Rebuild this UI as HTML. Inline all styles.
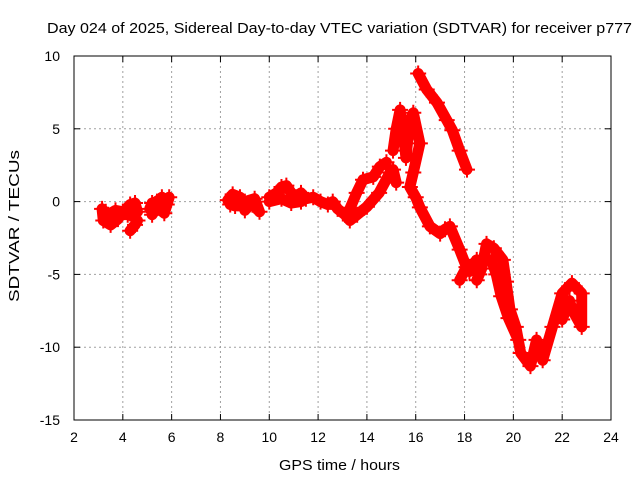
<!DOCTYPE html>
<html><head><meta charset="utf-8"><style>
body{margin:0;background:#fff}
svg{display:block;font-family:"Liberation Sans",sans-serif}
</style></head><body>
<svg id="chart" width="640" height="480" viewBox="0 0 640 480">
<rect width="640" height="480" fill="#fff"/>
<text x="47" y="33" font-size="15" textLength="585" lengthAdjust="spacingAndGlyphs">Day 024 of 2025, Sidereal Day-to-day VTEC variation (SDTVAR) for receiver p777</text>
<g id="grid"></g>
<g id="ticks"></g>
<g id="series"></g>
<rect x="74" y="56" width="537" height="364" fill="none" stroke="#000" stroke-width="1"/>
<text x="279" y="470" font-size="15" textLength="121" lengthAdjust="spacingAndGlyphs">GPS time / hours</text>
<text transform="translate(19,302) rotate(-90)" font-size="15" textLength="152" lengthAdjust="spacingAndGlyphs">SDTVAR / TECUs</text>
</svg>
<script>
const xTicks=[2,4,6,8,10,12,14,16,18,20,22,24];
const yTicks=[10,5,0,-5,-10,-15];
const seg1=[[3.15,-0.5],[3.2,-1.3],[3.5,-1.6],[3.8,-1.2],[4.0,-0.7],[3.7,-0.6],[3.4,-0.9],[3.3,-0.7]];
const seg2=[[4.1,-0.6],[4.3,-0.2],[4.5,-0.1],[4.6,-0.7],[4.4,-1.0],[4.2,-0.9]];
const seg3=[[4.3,-2.0],[4.5,-1.6],[4.6,-1.3]];
const seg4=[[5.1,-0.5],[5.2,-0.1],[5.4,0.0],[5.6,0.3],[5.8,-0.2],[5.9,0.3],[5.7,-0.8],[5.4,-0.4],[5.2,-0.9]];
const seg5=[[8.3,0.1],[8.5,0.5],[8.8,0.3],[9.0,-0.6],[9.2,-0.2],[9.4,-0.3],[9.6,-0.7],[9.4,0.2],[9.0,0.0],[8.6,-0.3],[8.4,-0.2]];
const seg6=[[10.0,0.3],[10.3,0.6],[10.5,1.0],[10.7,1.1],[10.9,0.6],[11.1,0.3],[11.3,0.6],[11.5,0.2],[11.8,0.3],[12.1,0.0],[12.4,-0.2],[12.6,0.0],[12.8,-0.5],[13.1,-0.9],[13.3,-1.3],[13.6,-0.9],[14.0,-0.35],[14.5,0.6],[14.95,2.0],[15.07,2.2],[15.2,1.3]];
const seg7=[[10.0,0.0],[10.5,0.2],[10.9,-0.1],[11.3,0.0]];
const seg8=[[13.3,-0.5],[13.58,0.6],[13.84,1.5],[14.26,1.7],[14.53,2.4],[14.8,2.7]];
const seg9=[[15.07,3.5],[15.2,5.0],[15.36,6.3],[15.5,4.5],[15.6,3.0],[15.75,5.5],[15.9,6.1],[16.17,4.0],[15.9,2.0],[15.76,1.0],[16.0,0.3],[16.17,-0.4],[16.58,-1.7],[17.0,-2.2],[17.2,-1.9],[17.4,-1.7],[17.8,-3.3],[18.08,-4.5],[17.8,-5.4]];
const seg10=[[18.2,-4.8],[18.35,-4.3],[18.5,-4.0],[18.6,-5.0],[18.5,-5.4],[18.7,-4.6],[18.9,-2.9],[19.2,-3.2],[19.57,-4.0],[19.7,-5.5],[19.86,-7.4],[20.1,-8.6],[20.3,-10.4],[20.7,-11.3],[20.95,-9.5],[21.2,-10.9],[21.6,-8.6],[22.0,-6.3],[22.4,-5.6],[22.8,-6.3],[22.8,-8.6],[22.4,-7.4],[22.3,-6.8],[22.0,-8.1]];
const seg11=[[19.1,-4.0],[19.3,-5.0],[19.5,-6.5],[19.8,-8.0],[20.2,-9.5]];
const seg12=[[16.1,8.8],[16.45,7.7],[16.87,6.8],[17.27,5.6],[17.5,4.9],[17.8,3.5],[18.1,2.2]];
const segments=[seg1,seg2,seg3,seg4,seg5,seg6,seg7,seg8,seg9,seg10,seg11,seg12];
const X0=74,X1=611,Y0=420,Y1=56,xmin=2,xmax=24,ymin=-15,ymax=10;
const sx=v=>X0+(v-xmin)/(xmax-xmin)*(X1-X0);
const sy=v=>Y0-(v-ymin)/(ymax-ymin)*(Y0-Y1);
const NS="http://www.w3.org/2000/svg";
const grid=document.getElementById('grid'),ticks=document.getElementById('ticks'),series=document.getElementById('series');
function mk(tag,attrs,parent){const e=document.createElementNS(NS,tag);for(const k in attrs)e.setAttribute(k,attrs[k]);parent.appendChild(e);return e;}
xTicks.forEach(t=>{const x=sx(t);
 if(t>xmin&&t<xmax){const g=mk('line',{x1:x,x2:x,y1:Y1,y2:Y0,stroke:'#a0a0a0','stroke-dasharray':'2,3'},grid);
 
 }
 mk('line',{x1:x,x2:x,y1:Y0,y2:Y0-6,stroke:'#000'},ticks);mk('line',{x1:x,x2:x,y1:Y1,y2:Y1+6,stroke:'#000'},ticks);
 const l=mk('text',{x:x,y:Y0+22,'font-size':14,'text-anchor':'middle'},ticks);l.textContent=t;
 
 });
yTicks.forEach(t=>{const y=sy(t);
 if(t>ymin&&t<ymax){const g=mk('line',{x1:X0,x2:X1,y1:y,y2:y,stroke:'#a0a0a0','stroke-dasharray':'2,3'},grid);
 
 }
 mk('line',{x1:X0,x2:X0+6,y1:y,y2:y,stroke:'#000'},ticks);mk('line',{x1:X1,x2:X1-6,y1:y,y2:y,stroke:'#000'},ticks);
 const l=mk('text',{x:X0-14,y:y+5,'font-size':14,'text-anchor':'end'},ticks);l.textContent=t;
 
 });
segments.forEach(seg=>{
 const pl=mk('polyline',{points:seg.map(p=>sx(p[0])+','+sy(p[1])).join(' '),fill:'none',stroke:'#f00','stroke-width':11,'stroke-linejoin':'round','stroke-linecap':'round'},series);
 
 
 seg.forEach(p=>{const x=sx(p[0]),y=sy(p[1]);
  const m=mk('path',{d:`M${x-8},${y}H${x+8}M${x},${y-8}V${y+8}`,stroke:'#f00','stroke-width':2},series);
  
  });
});
</script>
</body></html>
